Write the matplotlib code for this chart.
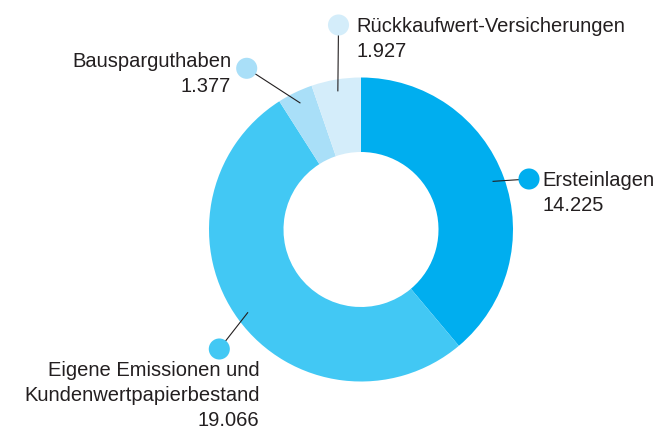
import matplotlib
matplotlib.use("Agg")
import matplotlib.pyplot as plt
import numpy as np

# ── data ──────────────────────────────────────────────────────────────────────
labels = ["Ersteinlagen",
          "Eigene Emissionen und\nKundenwertpapierbestand",
          "Bausparguthaben",
          "Rückkaufwert-Versicherungen"]
values = [14225, 19066, 1377, 1927]
value_labels = ["14.225", "19.066", "1.377", "1.927"]
colors = ["#00AEEF", "#42C8F4", "#A9DFF8", "#D4EDFA"]

# ── layout (pixel space, y up) ───────────────────────────────────────────────
W, H = 658, 429
cx, cy = 361, H - 229.5
r_out, r_in = 152, 77.5
# dot position, text anchor, alignment per label
dots = [(529, H - 179), (219.3, H - 349), (246.7, H - 68.3), (338.5, H - 25)]
text_pos = [(542, H - 185.7), (259.5, H - 375.5), (231, H - 66.7), (356, H - 31.7)]
aligns = ["left", "right", "right", "left"]
line_step = 25.3
txt_color = "#231F20"

fig = plt.figure(figsize=(W / 100, H / 100), dpi=100)
ax = fig.add_axes([0, 0, 1, 1])

wedges, _ = ax.pie(values, colors=colors, startangle=90, counterclock=False,
                   radius=r_out, center=(cx, cy),
                   wedgeprops=dict(width=r_out - r_in, linewidth=0))
ax.set_xlim(0, W)
ax.set_ylim(0, H)
ax.set_aspect("equal")
ax.axis("off")

plt.rcParams["font.family"] = ["Liberation Sans", "DejaVu Sans"]

for w, lab, val_lab, col, (dx, dy), (tx, ty), ha in zip(
        wedges, labels, value_labels, colors, dots, text_pos, aligns):
    mid = np.deg2rad((w.theta1 + w.theta2) / 2)
    sx = cx + 0.925 * r_out * np.cos(mid)
    sy = cy + 0.925 * r_out * np.sin(mid)
    ax.plot([sx, dx], [sy, dy], color="#231F20", lw=0.8, zorder=3)
    ax.scatter(dx, dy, s=230, color=col, edgecolor="none", zorder=4)
    for i, ln in enumerate(lab.split("\n") + [val_lab]):
        ax.text(tx, ty - i * line_step, ln, ha=ha, va="baseline",
                fontsize=14.5, color=txt_color)

fig.savefig("out.png", dpi=100)
